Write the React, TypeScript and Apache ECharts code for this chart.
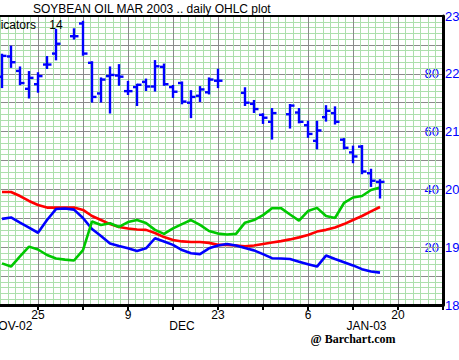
import React, { useEffect, useRef } from "react";
import * as echarts from "echarts";

// Trading-day slots (weekdays) from Nov 19 2002 to Jan 16 2003; slot offset from Mon Nov 25 = index + firstSlot
const firstSlot = -4;
const dates = [
  "11-19", "11-20", "11-21", "11-22", "11-25", "11-26", "11-27", "11-28", "11-29",
  "12-02", "12-03", "12-04", "12-05", "12-06", "12-09", "12-10", "12-11", "12-12", "12-13",
  "12-16", "12-17", "12-18", "12-19", "12-20", "12-23", "12-24", "12-25", "12-26", "12-27",
  "12-30", "12-31", "01-01", "01-02", "01-03", "01-06", "01-07", "01-08", "01-09", "01-10",
  "01-13", "01-14", "01-15", "01-16",
];

const openV = [
  21.95, 22.30, 22.05, 21.74, 21.82, 22.16, 22.35, null, 22.65,
  22.87, 22.19, 21.66, 21.96, 21.97, 21.70, 21.77, 21.86, 21.78, 22.12,
  21.77, 21.84, 21.50, 21.62, 21.68, 21.88, null, null, 21.67, 21.48,
  21.29, 21.17, null, 21.30, 21.33, 21.11, 20.84, 21.25, 21.32, 20.86,
  20.64, 20.74, 20.28, 20.13,
];
const highV = [
  22.33, 22.47, 22.11, 22.03, 22.01, 22.29, 22.76, null, 22.77,
  22.90, 22.20, 21.92, 22.11, 22.15, 21.86, 21.81, 21.90, 22.22, 22.16,
  21.79, 21.85, 21.70, 21.77, 21.92, 22.07, null, null, 21.75, 21.53,
  21.30, 21.39, null, 21.46, 21.39, 21.17, 21.17, 21.44, 21.42, 20.87,
  20.74, 20.75, 20.34, 20.16,
];
const lowV = [
  21.77, 22.12, 21.82, 21.59, 21.69, 22.10, 22.25, null, 22.61,
  22.33, 21.52, 21.52, 21.33, 21.81, 21.65, 21.46, 21.72, 21.71, 21.81,
  21.60, 21.49, 21.25, 21.53, 21.66, 21.77, null, null, 21.46, 21.34,
  21.15, 20.88, null, 21.07, 21.16, 20.91, 20.71, 21.19, 21.14, 20.71,
  20.47, 20.28, 20.06, 19.86,
];
const closeV = [
  22.31, 22.20, 21.84, 21.93, 21.96, 22.16, 22.52, null, 22.65,
  22.35, 21.60, 21.90, 21.98, 21.95, 21.70, 21.81, 21.78, 22.13, 21.82,
  21.69, 21.52, 21.60, 21.73, 21.90, 21.88, null, null, 21.50, 21.39,
  21.24, 21.32, null, 21.45, 21.17, 20.96, 21.02, 21.36, 21.17, 20.72,
  20.57, 20.31, 20.15, 20.13,
];

// Indicators (14), scale 0..100
const redLine = [
  39.1, 39.1, 37.7, 36.0, 34.6, 33.7, 33.7, 33.7, 33.7,
  32.9, 30.8, 29.4, 28.0, 27.0, 26.5, 26.1, 26.0, 24.9, 23.5,
  22.5, 22.0, 21.8, 21.8, 21.5, 20.8, 20.8, 20.6, 20.3, 20.6,
  21.1, 21.6, 22.1, 22.7, 23.4, 24.2, 25.4, 26.0, 26.8, 28.0,
  29.4, 30.8, 32.4, 33.9,
];
const blueLine = [
  29.8, 30.3, 28.5, 26.8, 25.0, 29.4, 33.2, 33.4, 33.0,
  30.1, 26.3, 23.9, 21.3, 20.4, 19.6, 18.7, 19.6, 23.1, 22.0,
  20.8, 19.0, 17.9, 17.6, 19.6, 20.6, 21.1, 20.6, 19.7, 18.9,
  17.6, 16.2, 16.1, 15.9, 15.0, 14.1, 13.3, 17.1, 15.9, 14.8,
  13.7, 12.4, 11.6, 11.2,
];
const greenLine = [
  14.4, 13.3, 16.8, 20.2, 19.2, 17.3, 16.1, 15.7, 15.4,
  19.0, 28.9, 27.7, 28.3, 27.0, 28.7, 29.4, 28.4, 26.0, 24.6,
  26.5, 28.0, 29.4, 27.7, 25.6, 24.7, 24.4, 24.6, 28.5, 29.4,
  31.1, 33.5, 33.5, 31.3, 29.2, 32.5, 33.6, 30.8, 30.1, 35.3,
  37.2, 37.7, 39.8, 40.7,
];

const xTickValues = [0, 10, 20, 30, 40];
const xTickLabels = ["25", "9", "23", "6", "20"];
const monthValues = [-3, 16, 36.5];
const monthLabels = ["NOV-02", "DEC", "JAN-03"];
const priceLabels = ["18", "19", "20", "21", "22", "23"];
const indicatorLabels = ["20", "40", "60", "80"];

const titleText = "SOYBEAN OIL MAR 2003 .. daily OHLC plot";
const indicatorText = "Indicators    14";
const creditText = "@ Barchart.com";

const FONT = '"Liberation Sans", Arial, sans-serif';
const BLUE = "#0000ff";
const GRAY = "#8a8a8a";
const GREEN_GRID = "#acdfac";

export default function App() {
  const ref = useRef<HTMLDivElement>(null);
  useEffect(() => {
    if (!ref.current) return;
    const chart = echarts.init(ref.current, null, { renderer: "svg" });
    const slot = (i: number) => i + firstSlot;
    const bars: number[][] = [];
    dates.forEach((_, i) => {
      if (openV[i] != null) bars.push([slot(i), openV[i] as number, highV[i] as number, lowV[i] as number, closeV[i] as number]);
    });
    const lineData = (arr: number[]) => arr.map((v, i) => [slot(i), v]);

    const option: any = {
      animation: false,
      backgroundColor: "#ffffff",
      grid: { left: -7, top: 16, right: 16, bottom: 55, containLabel: false, outerBoundsMode: "none" },
      xAxis: [
        {
          type: "value", position: "bottom", min: -5, max: 45, interval: 5, z: 3,
          axisLine: { show: true, onZero: false, lineStyle: { color: "#000", width: 3 } },
          axisTick: { show: true, length: 5, lineStyle: { color: "#000", width: 2 } },
          axisLabel: {
            show: true, margin: 4, color: "#000", fontSize: 12, fontFamily: FONT,
            formatter: (v: number) => { const k = xTickValues.indexOf(v); return k >= 0 ? xTickLabels[k] : ""; },
          },
          splitLine: { show: true, showMaxLine: false, lineStyle: { color: GRAY, width: 1 } },
          minorTick: { show: false, splitNumber: 6 },
          minorSplitLine: { show: true, lineStyle: { color: GREEN_GRID, width: 1 } },
        },
        {
          type: "value", position: "bottom", min: -5, max: 45, interval: 0.5,
          axisLine: { show: false, onZero: false }, axisTick: { show: false }, splitLine: { show: false },
          axisLabel: {
            show: true, margin: 15, color: "#000", fontSize: 12, fontFamily: FONT,
            formatter: (v: number) => { const k = monthValues.indexOf(v); return k >= 0 ? monthLabels[k] : ""; },
          },
        },
        {
          type: "value", position: "top", min: -5, max: 45, z: 4,
          axisLine: { show: true, onZero: false, lineStyle: { color: "#000", width: 2 } },
          axisTick: { show: false }, axisLabel: { show: false }, splitLine: { show: false },
        },
      ],
      yAxis: [
        {
          type: "value", position: "right", min: 18, max: 23, interval: 0.5, z: 3,
          axisLine: { show: true, onZero: false, lineStyle: { color: "#000", width: 3 } },
          axisTick: { show: false },
          axisLabel: {
            show: true, margin: 2, color: BLUE, fontSize: 13, fontFamily: FONT,
            formatter: (v: number) => { const s = String(v); return priceLabels.indexOf(s) >= 0 ? s : ""; },
          },
          splitLine: { show: true, showMinLine: false, showMaxLine: false, lineStyle: { color: GRAY, width: 1 } },
          minorTick: { show: false, splitNumber: 5 },
          minorSplitLine: { show: true, lineStyle: { color: GREEN_GRID, width: 1 } },
        },
        {
          type: "value", position: "right", min: 0, max: 100, interval: 20,
          axisLine: { show: false, onZero: false }, axisTick: { show: false }, splitLine: { show: false },
          axisLabel: {
            show: true, inside: true, margin: 4, color: BLUE, fontSize: 13, fontFamily: FONT,
            formatter: (v: number) => { const s = String(v); return indicatorLabels.indexOf(s) >= 0 ? s : ""; },
          },
        },
      ],
      series: [
        {
          type: "line", xAxisIndex: 0, yAxisIndex: 1, data: lineData(redLine), showSymbol: false,
          lineStyle: { color: "#ff0000", width: 2.6 }, z: 3,
        },
        {
          type: "line", xAxisIndex: 0, yAxisIndex: 1, data: lineData(blueLine), showSymbol: false,
          lineStyle: { color: BLUE, width: 2.6 }, z: 4,
        },
        {
          type: "line", xAxisIndex: 0, yAxisIndex: 1, data: lineData(greenLine), showSymbol: false,
          lineStyle: { color: "#00c800", width: 2.6 }, z: 5,
        },
        {
          type: "custom", xAxisIndex: 0, yAxisIndex: 0, data: bars, z: 6,
          encode: { x: 0, y: [1, 2, 3, 4] },
          renderItem: (params: any, api: any) => {
            const d = api.value(0);
            const ph = api.coord([d, api.value(2)]);
            const pl = api.coord([d, api.value(3)]);
            const po = api.coord([d, api.value(1)]);
            const pc = api.coord([d, api.value(4)]);
            const st = { stroke: BLUE, lineWidth: 2.4 };
            return {
              type: "group",
              children: [
                { type: "line", shape: { x1: ph[0], y1: ph[1] - 1, x2: pl[0], y2: pl[1] + 1 }, style: st },
                { type: "line", shape: { x1: po[0] - 4, y1: po[1], x2: po[0], y2: po[1] }, style: st },
                { type: "line", shape: { x1: pc[0], y1: pc[1], x2: pc[0] + 4.5, y2: pc[1] }, style: st },
              ],
            };
          },
        },
      ],
      graphic: [
        { type: "text", x: 33, y: 2.5, z: 10, style: { text: titleText, font: `12px ${FONT}`, fill: "#000", align: "left", verticalAlign: "top" } },
        { type: "text", x: -16, y: 18.5, z: 10, style: { text: indicatorText, font: `12px ${FONT}`, fill: "#000", align: "left", verticalAlign: "top" } },
        { type: "text", x: 353, y: 333, z: 10, style: { text: creditText, font: `bold 12px "Liberation Serif", "Times New Roman", serif`, fill: "#000", align: "center", verticalAlign: "top" } },
      ],
    };
    chart.setOption(option);
    return () => chart.dispose();
  }, []);
  return <div ref={ref} style={{ position: "absolute", left: 0, top: 0, width: 459, height: 360 }} />;
}
